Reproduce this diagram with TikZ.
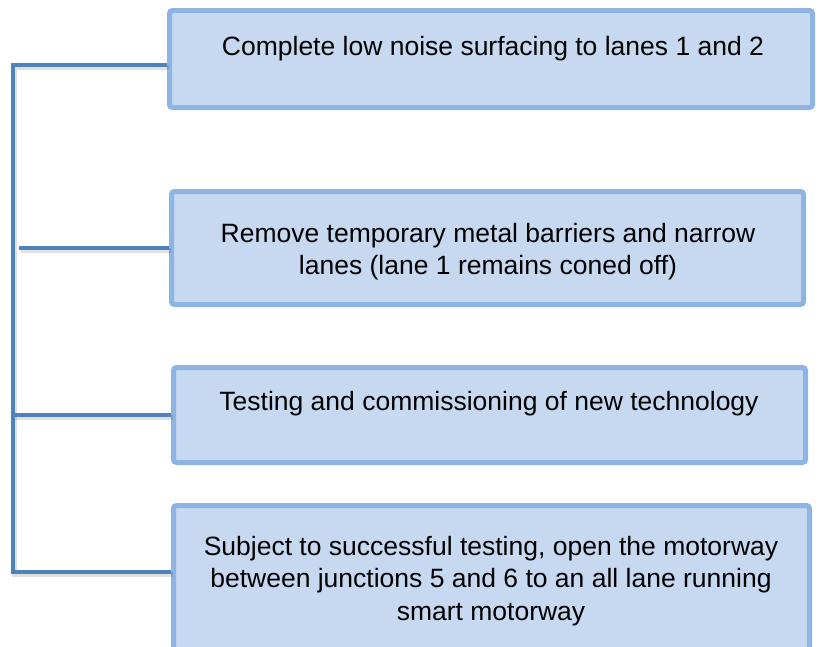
\documentclass[tikz,border=0pt]{standalone}
\usepackage{fontspec}
\setmainfont{Liberation Sans}
\definecolor{linkblue}{HTML}{4F81BD}
\definecolor{boxedge}{HTML}{8EB4E3}
\definecolor{boxfill}{HTML}{C6D9F1}
\begin{document}
\begin{tikzpicture}[x=1pt,y=-1pt,
  stepbox/.style={rectangle,draw=boxedge,fill=boxfill,line width=5pt,rounded corners=3pt,inner sep=0pt},
  steptext/.style={font=\fontsize{26.5}{32.5}\selectfont,align=center,anchor=base,inner sep=0pt},
  link/.style={draw=linkblue,line width=4.5pt},
  linkshadow/.style={draw=black,opacity=0.12,line width=5pt}]
\useasboundingbox (0,0) rectangle (820,646);
\begin{scope}
\clip (0,0) rectangle (820,646);
% boxes
\node[stepbox,minimum width=643pt,minimum height=97pt]  (b1) at (491,59) {};
\node[stepbox,minimum width=632pt,minimum height=113pt] (b2) at (487.5,248) {};
\node[stepbox,minimum width=632pt,minimum height=95pt]  (b3) at (489.5,415) {};
\node[stepbox,minimum width=636pt,minimum height=195pt] (b4) at (491.5,603) {};
% texts (anchor base = baseline of the last line)
\node[steptext] (t1) at (493,55) {Complete low noise surfacing to lanes 1 and 2};
\node[steptext] (t2) at (488,274.5) {Remove temporary metal barriers and narrow\\lanes (lane 1 remains coned off)};
\node[steptext] (t3) at (489,410) {Testing and commissioning of new technology};
\node[steptext] (t4) at (491,620) {Subject to successful testing, open the motorway\\between junctions 5 and 6 to an all lane running\\smart motorway};
% connector points
\coordinate (spineTop) at (13,65);
\coordinate (spineBot) at (13,572);
\coordinate (j2) at (19,248);
\coordinate (j3) at (13,415);
% shadows
\begin{scope}[transform canvas={shift={(1.5pt,-2.5pt)}}]
\draw[linkshadow] (b1.west |- spineTop) -- (spineTop) -- (spineBot) -- (b4.west |- spineBot);
\draw[linkshadow] (j2) -- (b2.west |- j2);
\draw[linkshadow] (j3) -- (b3.west |- j3);
\end{scope}
% connectors
\draw[link] (b1.west |- spineTop) -- (spineTop) -- (spineBot) -- (b4.west |- spineBot);
\draw[link] (j2) -- (b2.west |- j2);
\draw[link] (j3) -- (b3.west |- j3);
\end{scope}
\end{tikzpicture}
\end{document}
